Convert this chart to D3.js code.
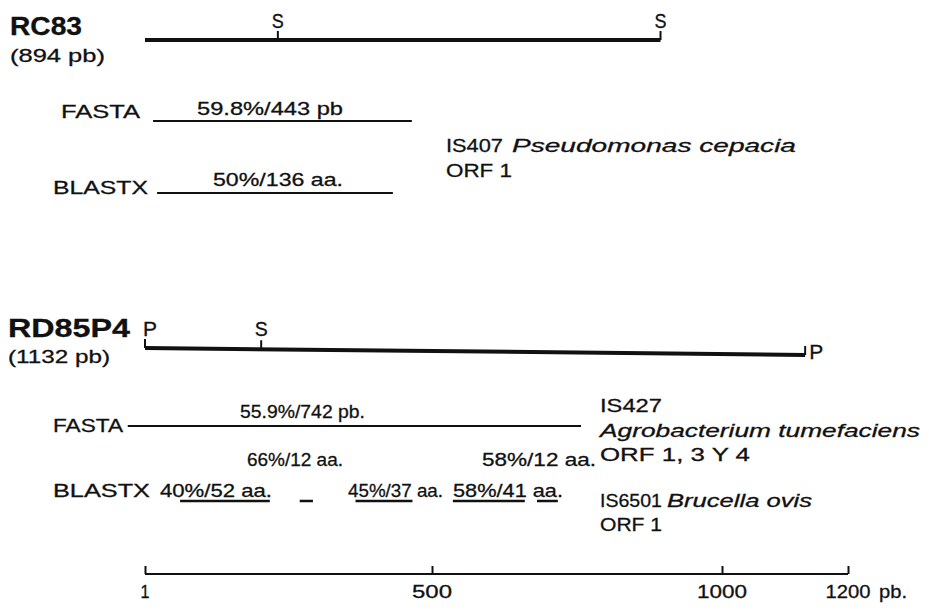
<!DOCTYPE html>
<html>
<head>
<meta charset="utf-8">
<script src="https://cdn.jsdelivr.net/npm/d3@7"></script>
<style>
  html, body { margin: 0; padding: 0; background: #fff; }
  svg { display: block; }
  text { font-family: "Liberation Sans", Arial, Helvetica, sans-serif; fill: #111; stroke: #111; stroke-width: 0.3; }
</style>
</head>
<body>
<svg id="chart" width="929" height="610"></svg>
<script>
// ---- data (positions in bp) ----
const axisTicks = [1, 500, 1000, 1200];
const axisTickLabels = ["1", "500", "1000", "1200"];

const clones = ["RC83", "RD85P4"];
const cloneLengths = [894, 1132];

const rc83Sites = [{ name: "S", pos: 232 }, { name: "S", pos: 894 }];
const rd85Sites = [{ name: "P", pos: 1 }, { name: "S", pos: 203 }, { name: "P", pos: 1132 }];

const rc83Fasta = [[15, 465]];
const rc83Blastx = [[22, 432]];
const rd85Fasta = [[-29, 757]];
const rd85Blastx = [[62, 218], [270, 293], [367, 466], [536, 660], [681, 717]];

// ---- drawing ----
const svg = d3.select("#chart");
const x = d3.scaleLinear().domain([1, 500, 1000, 1200]).range([145, 432, 722, 848]);

function txt(s, px, py, o = {}) {
  const t = svg.append("text").attr("x", px).attr("y", py)
    .attr("font-size", o.size || 19)
    .attr("font-weight", o.bold ? "bold" : "normal")
    .attr("font-style", o.italic ? "italic" : "normal")
    .attr("text-anchor", o.anchor || "start")
    .text(s);
  if (o.w) t.attr("textLength", o.w).attr("lengthAdjust", "spacingAndGlyphs");
  return t;
}

function hline(data, y, w) {
  svg.selectAll(null).data(data).enter().append("line")
    .attr("x1", d => x(d[0])).attr("x2", d => x(d[1]))
    .attr("y1", y).attr("y2", y)
    .attr("stroke", "#111").attr("stroke-width", w);
}

// ===== RC83 =====
txt(clones[0], 10, 35, { size: 25, bold: true, w: 72 });
txt("(" + cloneLengths[0] + " pb)", 10, 62, { w: 95 });
hline([[1, cloneLengths[0]]], 40, 4);
svg.selectAll(null).data(rc83Sites).enter().append("line")
  .attr("x1", d => x(d.pos)).attr("x2", d => x(d.pos))
  .attr("y1", 40).attr("y2", 31).attr("stroke", "#111").attr("stroke-width", 2);
rc83Sites.forEach(d => txt(d.name, x(d.pos), 28, { size: 20, anchor: "middle", w: 12 }));

txt("FASTA", 61, 118, { w: 79 });
hline(rc83Fasta, 121, 2);
txt("59.8%/443 pb", 197, 115, { w: 146 });

txt("BLASTX", 53, 194, { w: 95 });
hline(rc83Blastx, 193, 2);
txt("50%/136 aa.", 213, 186, { w: 130 });

txt("IS407", 446, 152, { w: 57 });
txt("Pseudomonas cepacia", 512, 152, { italic: true, w: 284 });
txt("ORF 1", 446, 177, { w: 66 });

// ===== RD85P4 =====
txt(clones[1], 8, 337, { size: 25, bold: true, w: 122 });
txt("(" + cloneLengths[1] + " pb)", 8, 363, { w: 102 });
const yLine = d3.scaleLinear().domain([1, cloneLengths[1]]).range([348, 355]);
svg.append("line").attr("x1", x(1)).attr("x2", x(cloneLengths[1]))
  .attr("y1", yLine(1)).attr("y2", yLine(cloneLengths[1]))
  .attr("stroke", "#111").attr("stroke-width", 4);
svg.selectAll(null).data(rd85Sites).enter().append("line")
  .attr("x1", d => x(d.pos)).attr("x2", d => x(d.pos))
  .attr("y1", d => yLine(d.pos)).attr("y2", d => yLine(d.pos) - 9)
  .attr("stroke", "#111").attr("stroke-width", 2);
txt(rd85Sites[0].name, x(rd85Sites[0].pos) - 2, 336, { size: 20, w: 14 });
txt(rd85Sites[1].name, x(rd85Sites[1].pos), 336, { size: 20, anchor: "middle", w: 13 });
txt(rd85Sites[2].name, x(rd85Sites[2].pos) + 4, 359, { size: 20, w: 14 });

txt("FASTA", 53, 432, { w: 70 });
hline(rd85Fasta, 426, 2);
txt("55.9%/742 pb.", 240, 418, { w: 125 });

txt("IS427", 600, 412, { w: 62 });
txt("Agrobacterium tumefaciens", 600, 437, { italic: true, w: 320 });
txt("ORF 1, 3 Y 4", 600, 461, { w: 150 });

txt("66%/12 aa.", 247, 466, { w: 96 });
txt("58%/12 aa.", 482, 466, { w: 114 });
txt("BLASTX", 53, 497, { w: 97 });
txt("40%/52 aa.", 160, 497, { w: 112 });
txt("45%/37 aa.", 348, 497, { w: 95 });
txt("58%/41 aa.", 453, 497, { w: 110 });
hline(rd85Blastx, 501, 2.5);

txt("IS6501", 600, 507, { w: 62 });
txt("Brucella ovis", 667, 507, { italic: true, w: 145 });
txt("ORF 1", 600, 531, { w: 62 });

// ===== scale axis =====
const axisG = svg.append("g").attr("transform", "translate(0,574)");
axisG.call(d3.axisTop(x).tickValues(axisTicks).tickSize(8).tickFormat(() => ""));
axisG.select(".domain").attr("d", `M${x(1)},0H${x(1200)}`).attr("stroke", "#111").attr("stroke-width", 2);
axisG.selectAll(".tick line").attr("stroke", "#111").attr("stroke-width", 2);
const tickW = [9, 40, 50, 45];
svg.selectAll(null).data(axisTicks).enter().append("text")
  .attr("x", d => x(d)).attr("y", 598).attr("text-anchor", "middle")
  .attr("font-size", 19)
  .attr("textLength", (d, i) => tickW[i]).attr("lengthAdjust", "spacingAndGlyphs")
  .text((d, i) => axisTickLabels[i]);
txt("pb.", 879, 598, { w: 28 });
</script>
</body>
</html>
